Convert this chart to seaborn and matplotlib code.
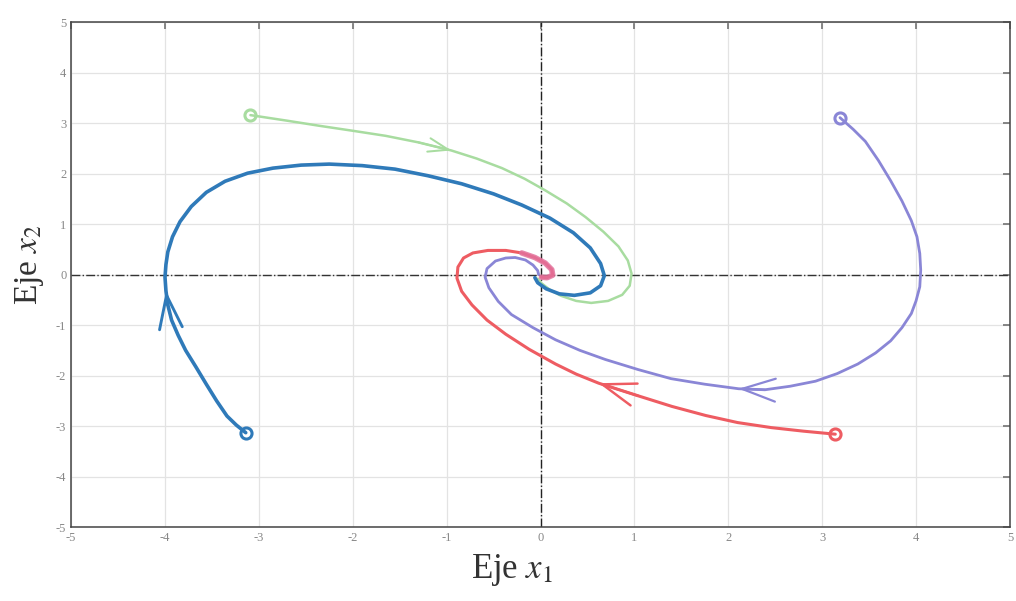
import numpy as np
import pandas as pd
import matplotlib
matplotlib.use("Agg")
import matplotlib.pyplot as plt
import seaborn as sns

# Trajectories (x1, x2)
blue_x = [-3.14, -3.24, -3.34, -3.45, -3.56, -3.67, -3.78, -3.86, -3.93, -3.97, -3.99, -4.00, -3.99, -3.97, -3.92, -3.84, -3.72, -3.56, -3.36, -3.12, -2.85, -2.55, -2.25, -1.90, -1.55, -1.20, -0.84, -0.50, -0.20, 0.10, 0.35, 0.53, 0.64, 0.68, 0.64, 0.53, 0.36, 0.20, 0.06, -0.03, -0.06]
blue_y = [-3.13, -2.98, -2.80, -2.50, -2.17, -1.83, -1.50, -1.20, -0.90, -0.60, -0.32, -0.05, 0.20, 0.45, 0.75, 1.05, 1.35, 1.63, 1.85, 2.01, 2.11, 2.17, 2.19, 2.16, 2.09, 1.96, 1.80, 1.60, 1.38, 1.12, 0.83, 0.53, 0.22, -0.02, -0.22, -0.36, -0.41, -0.38, -0.28, -0.16, -0.06]

green_x = [-3.09, -2.70, -2.36, -2.00, -1.65, -1.30, -0.95, -0.68, -0.41, -0.17, 0.05, 0.28, 0.48, 0.67, 0.83, 0.93, 0.97, 0.95, 0.87, 0.72, 0.54, 0.38, 0.22, 0.10, 0.01, -0.03]
green_y = [3.16, 3.05, 2.95, 2.85, 2.75, 2.62, 2.46, 2.30, 2.11, 1.90, 1.67, 1.41, 1.14, 0.85, 0.56, 0.28, 0.02, -0.22, -0.40, -0.52, -0.56, -0.52, -0.42, -0.30, -0.17, -0.08]

red_x = [3.14, 2.80, 2.46, 2.10, 1.76, 1.40, 1.04, 0.62, 0.38, 0.16, -0.12, -0.37, -0.57, -0.73, -0.84, -0.89, -0.88, -0.82, -0.72, -0.56, -0.37, -0.20, -0.06, 0.05, 0.12, 0.13, 0.07, 0.01]
red_y = [-3.16, -3.10, -3.03, -2.93, -2.79, -2.61, -2.40, -2.15, -1.97, -1.77, -1.48, -1.18, -0.90, -0.60, -0.33, -0.07, 0.15, 0.33, 0.43, 0.48, 0.48, 0.43, 0.34, 0.23, 0.10, -0.01, -0.06, -0.05]

purple_x = [3.19, 3.33, 3.46, 3.60, 3.73, 3.85, 3.95, 4.01, 4.04, 4.05, 4.04, 4.00, 3.95, 3.85, 3.73, 3.57, 3.38, 3.16, 2.93, 2.66, 2.39, 2.11, 1.75, 1.39, 1.04, 0.69, 0.42, 0.16, -0.08, -0.31, -0.45, -0.55, -0.59, -0.57, -0.48, -0.37, -0.27, -0.16, -0.08, -0.03, -0.02]
purple_y = [3.11, 2.88, 2.64, 2.26, 1.86, 1.46, 1.07, 0.75, 0.42, 0.09, -0.24, -0.52, -0.77, -1.05, -1.31, -1.55, -1.77, -1.96, -2.11, -2.21, -2.28, -2.26, -2.17, -2.06, -1.88, -1.68, -1.50, -1.29, -1.05, -0.79, -0.53, -0.26, -0.05, 0.12, 0.27, 0.33, 0.34, 0.29, 0.19, 0.08, 0.00]

ticks = [-5, -4, -3, -2, -1, 0, 1, 2, 3, 4, 5]
xlabel = "Eje $x_1$"
ylabel = "Eje $x_2$"

# index of the point on each curve where the open arrowhead sits
arrow_idx = {"blue": 10, "green": 6, "red": 7, "purple": 21}

colors = {"blue": "#2f7ab9", "green": "#a8dca0", "red": "#ee5c62", "purple": "#8a86d6"}
widths = {"blue": 2.6, "green": 1.8, "red": 2.2, "purple": 2.0}
series = {"blue": (blue_x, blue_y), "green": (green_x, green_y),
          "red": (red_x, red_y), "purple": (purple_x, purple_y)}

frames = []
for name, (xs, ys) in series.items():
    frames.append(pd.DataFrame({"x1": xs, "x2": ys, "traj": name}))
df = pd.concat(frames, ignore_index=True)

sns.set_theme(style="white")
plt.rcParams["font.family"] = ["Liberation Serif", "DejaVu Serif"]
plt.rcParams["mathtext.fontset"] = "stix"
plt.rcParams["axes.unicode_minus"] = False

fig = plt.figure(figsize=(10.16, 6.01), dpi=100)
ax = fig.add_axes([0.070, 0.123, 0.924, 0.840])

ax.set_xlim(-5, 5)
ax.set_ylim(-5, 5)
ax.set_xticks(ticks)
ax.set_yticks(ticks)
ax.grid(True, color="#e3e3e3", linewidth=0.9)
ax.set_axisbelow(True)

ax.axhline(0, color="#333333", linestyle="-.", linewidth=1.0, zorder=1)
ax.axvline(0, color="#222222", linestyle="-.", linewidth=1.0, zorder=1)

for name in ["green", "blue", "red", "purple"]:
    sub = df[df.traj == name]
    sns.lineplot(data=sub, x="x1", y="x2", sort=False, estimator=None, ax=ax,
                 color=colors[name], linewidth=widths[name], zorder=3)
    ax.plot(sub.x1.iloc[0], sub.x2.iloc[0], marker="o", markersize=8,
            markerfacecolor="none", markeredgecolor=colors[name], markeredgewidth=2.2, zorder=4)
    i = arrow_idx[name]
    ax.annotate("", xy=(sub.x1.iloc[i], sub.x2.iloc[i]),
                xytext=(sub.x1.iloc[i - 1], sub.x2.iloc[i - 1]),
                arrowprops=dict(arrowstyle="->,head_length=1.6,head_width=0.55",
                                color=colors[name], lw=widths[name] * 0.8,
                                mutation_scale=15 if name != "green" else 9,
                                shrinkA=0, shrinkB=0),
                zorder=4)

# pinkish thick tail of the red trajectory near the origin
red_tail = df[df.traj == "red"].iloc[-7:]
ax.plot(red_tail.x1, red_tail.x2, color="#e2719c", linewidth=4.0, alpha=0.85,
        solid_capstyle="round", zorder=3.5)

ax.set_xlabel(xlabel, fontsize=25, color="#333333")
ax.set_ylabel(ylabel, fontsize=24, color="#333333")
ax.xaxis.set_label_coords(0.47, -0.05, transform=ax.transAxes)
ax.xaxis.label.set_va("top")
ax.yaxis.set_label_coords(-0.027, 0.52, transform=ax.transAxes)
ax.tick_params(axis="both", direction="in", length=5, labelsize=9, colors="#777777",
               labelcolor="#888888", top=True, right=True)
for s in ax.spines.values():
    s.set_color("#444444")
    s.set_linewidth(1.1)
    s.set_visible(True)

fig.savefig("out.png", dpi=100, facecolor="white")
